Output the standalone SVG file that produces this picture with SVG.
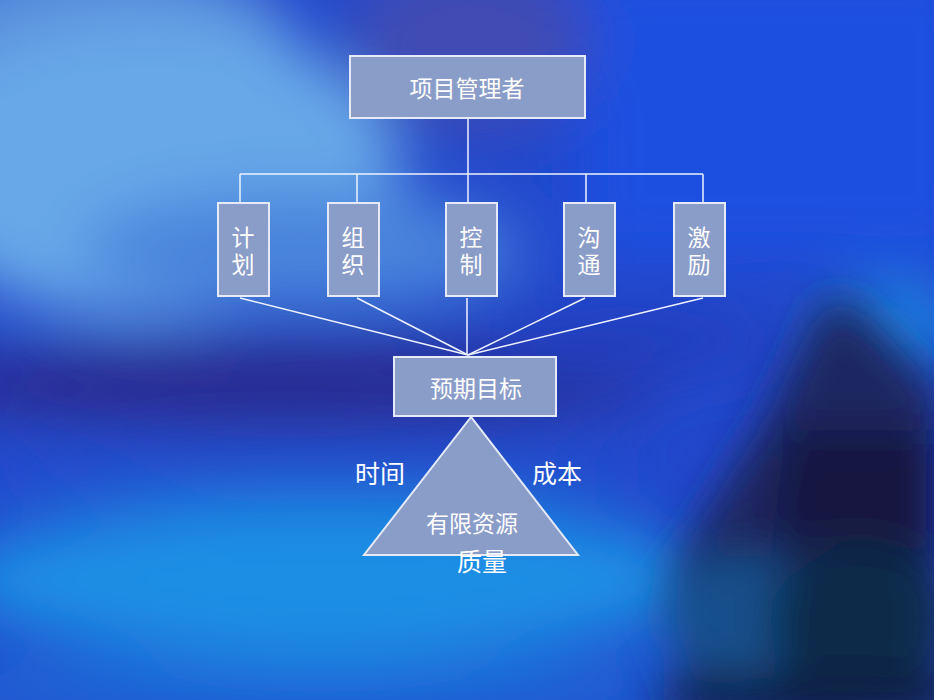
<svg xmlns="http://www.w3.org/2000/svg" width="950" height="700" viewBox="0 0 950 700">
<defs>
<filter id="blur" x="-50%" y="-50%" width="200%" height="200%"><feGaussianBlur stdDeviation="30"/></filter>
<filter id="blur2" x="-50%" y="-50%" width="200%" height="200%"><feGaussianBlur stdDeviation="22"/></filter>
<clipPath id="bgclip"><rect x="0" y="0" width="934" height="700"/></clipPath>
<style>
.box{fill:#8a9cc8;stroke:#e4eaf8;stroke-width:2}
.ln{stroke:#eef2ff;stroke-width:1.5;fill:none}
.t{font-family:"Noto Sans CJK SC","Noto Sans CJK JP",sans-serif;fill:#ffffff;text-anchor:middle;dominant-baseline:central}
.v{font-family:"Noto Sans CJK SC","Noto Sans CJK JP",sans-serif;fill:#ffffff;text-anchor:middle;writing-mode:vertical-rl;font-size:23px;letter-spacing:4px}
</style>
</defs>
<rect x="0" y="0" width="950" height="700" fill="#ffffff"/>
<g id="background" clip-path="url(#bgclip)">
<rect x="0" y="0" width="934" height="700" fill="#2248cc"/>
<g filter="url(#blur)">
<rect x="580" y="-40" width="400" height="300" fill="#1e50e0"/>
<ellipse cx="100" cy="60" rx="200" ry="110" fill="#5a90dc"/>
<ellipse cx="150" cy="170" rx="250" ry="150" fill="#68a8e8"/>
<ellipse cx="300" cy="250" rx="220" ry="60" fill="#4a84dc"/>
<ellipse cx="470" cy="40" rx="120" ry="90" fill="#3f4cb4"/>
<ellipse cx="280" cy="385" rx="380" ry="45" fill="#2a2c90"/>
<ellipse cx="620" cy="340" rx="160" ry="40" fill="#2440c0"/>
<ellipse cx="300" cy="470" rx="330" ry="35" fill="#2250d0"/>
<ellipse cx="330" cy="580" rx="380" ry="80" fill="#1a8ee4"/>
<ellipse cx="300" cy="690" rx="420" ry="30" fill="#1e6ad8"/>
<ellipse cx="890" cy="330" rx="70" ry="50" fill="#1a80e0"/>
</g>
<g filter="url(#blur2)">
<polygon points="822,300 852,300 940,390 940,720 690,720 670,570 770,410" fill="#1a2660"/>
<polygon points="790,430 940,430 940,560 770,540" fill="#141840"/>
<ellipse cx="740" cy="615" rx="80" ry="60" fill="#165a96" opacity="0.8"/>
<ellipse cx="860" cy="620" rx="90" ry="80" fill="#0c2a4a"/>
<ellipse cx="820" cy="700" rx="170" ry="25" fill="#0c1a40"/>
</g>
</g>
<g id="connectors">
<line class="ln" x1="468" y1="118" x2="468" y2="203"/>
<line class="ln" x1="240" y1="174" x2="703" y2="174"/>
<line class="ln" x1="240" y1="174" x2="240" y2="203"/>
<line class="ln" x1="357" y1="174" x2="357" y2="203"/>
<line class="ln" x1="586" y1="174" x2="586" y2="203"/>
<line class="ln" x1="703" y1="174" x2="703" y2="203"/>
<line class="ln" x1="240" y1="298" x2="468" y2="355"/>
<line class="ln" x1="357" y1="298" x2="468" y2="355"/>
<line class="ln" x1="467" y1="298" x2="467" y2="355"/>
<line class="ln" x1="585" y1="298" x2="468" y2="355"/>
<line class="ln" x1="703" y1="298" x2="468" y2="355"/>
</g>
<g id="node-manager">
<rect class="box" x="350" y="56" width="235" height="62"/>
<text class="t" x="467" y="87" font-size="23">项目管理者</text>
</g>
<g id="node-plan">
<rect class="box" x="218" y="203" width="51" height="93"/>
<text class="v" x="243" y="253">计划</text>
</g>
<g id="node-organize">
<rect class="box" x="328" y="203" width="51" height="93"/>
<text class="v" x="353" y="253">组织</text>
</g>
<g id="node-control">
<rect class="box" x="446" y="203" width="51" height="93"/>
<text class="v" x="471" y="253">控制</text>
</g>
<g id="node-communicate">
<rect class="box" x="564" y="203" width="51" height="93"/>
<text class="v" x="589" y="253">沟通</text>
</g>
<g id="node-motivate">
<rect class="box" x="674" y="203" width="51" height="93"/>
<text class="v" x="699" y="253">激励</text>
</g>
<g id="node-goal">
<rect class="box" x="394" y="357" width="162" height="59"/>
<text class="t" x="476" y="387" font-size="23">预期目标</text>
</g>
<g id="node-resources">
<polygon class="box" points="471,417 364,555 578,555"/>
<text class="t" x="472" y="522" font-size="23">有限资源</text>
</g>
<g id="labels">
<text class="t" x="380" y="472" font-size="25">时间</text>
<text class="t" x="557" y="472" font-size="25">成本</text>
<text class="t" x="482" y="560" font-size="25">质量</text>
</g>
</svg>
